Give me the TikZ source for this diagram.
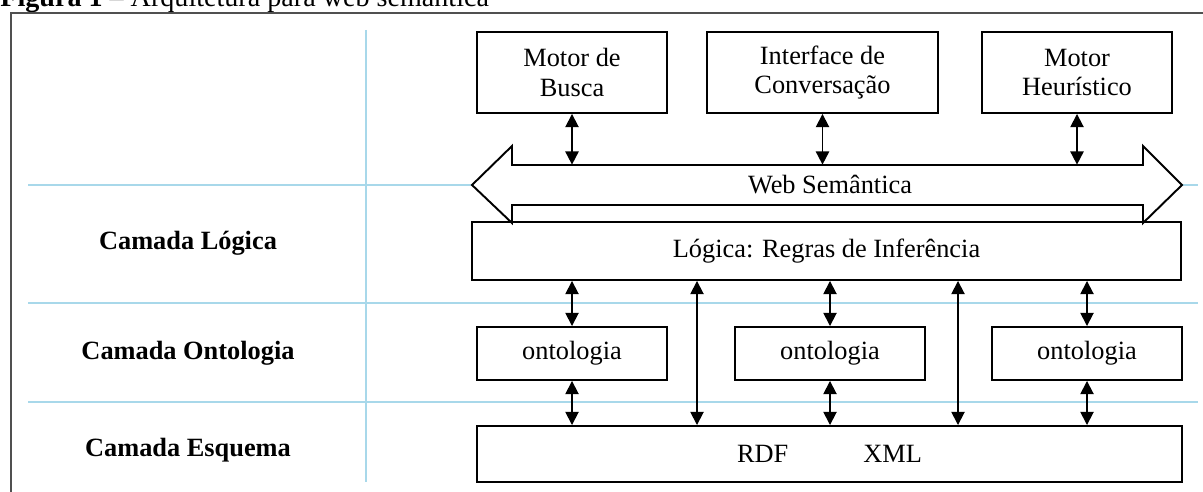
\documentclass[tikz,border=0pt]{standalone}
\usepackage{fontspec}
\setmainfont{Liberation Serif}
\usetikzlibrary{arrows.meta}
\usetikzlibrary{positioning}
\definecolor{guideblue}{RGB}{168,216,234}
\definecolor{framegray}{RGB}{80,80,80}

\begin{document}
\begin{tikzpicture}[x=0.02cm,y=-0.02cm,>={Triangle[length=7.5pt,width=7.5pt]},
	box/.style={rectangle,draw,line width=1.1pt,inner sep=0pt,align=center,font=\fontsize{15}{17}\selectfont},
	layer label/.style={font=\fontsize{15}{17}\selectfont\bfseries},
	guide/.style={draw=guideblue,line width=1.2pt},
	link/.style={<->,line width=1pt}]
		
		\useasboundingbox (0,0) rectangle (1203,492);
		
		\node[anchor=base west,inner sep=0pt,font=\fontsize{16}{18}\selectfont] (titulo) at (0,7) {\textbf{Figura 1} -- Arquitetura para web semântica};
		\draw[framegray,line width=1.2pt] (1203,13) -- (11,13) -- (11,492);
		
		% linhas guia
		\draw[guide] (366,30) -- (366,482);
		\foreach \y in {185,303,402}
		\draw[guide] (28,\y) -- (1198,\y);
		
		\node[layer label] (cl) at (188,243) {Camada Lógica};
		\node[layer label] (co) at (188,353) {Camada Ontologia};
		\node[layer label] (ce) at (188,450) {Camada Esquema};
		
		\node[box,minimum width=3.8cm,minimum height=1.62cm] (busca) at (572,72.5) {Motor de\\Busca};
		\node[box,minimum width=4.62cm,minimum height=1.62cm] (conversa) at (822.5,72.5) {Interface de\\Conversação};
		\node[box,minimum width=3.8cm,minimum height=1.62cm] (heuristico) at (1077,72.5) {Motor\\Heurístico};
		
		% seta dupla
		\draw[line width=1.1pt,fill=white] (472,185) -- (512,146) -- (512,165) -- (1143,165) -- (1143,146) -- (1182,185)
		-- (1143,223) -- (1143,205) -- (512,205) -- (512,223) -- cycle;
		\node[inner sep=0pt,minimum width=12.62cm,minimum height=0.8cm,font=\fontsize{15}{17}\selectfont] (web) at (830,185) {Web Semântica};
		
		\node[box,minimum width=14.18cm,minimum height=1.16cm] (logica) at (826.5,251) {Lógica: Regras de Inferência};
		
		\node[box,minimum width=3.8cm,minimum height=1.06cm] (onto1) at (572,353.5) {ontologia};
		\node[box,minimum width=3.8cm,minimum height=1.06cm] (onto2) at (830,353.5) {ontologia};
		\node[box,minimum width=3.8cm,minimum height=1.06cm] (onto3) at (1087,353.5) {ontologia};
		
		\node[box,minimum width=14.1cm,minimum height=1.12cm] (rdf) at (829.5,454) {RDF\hspace{1.5cm}XML};
		
		\coordinate (p1) at (697,0);
		\coordinate (p2) at (958,0);
		
		\draw[link] (busca.south) -- (busca.south |- web.north);
		\draw[link] (conversa.south) -- (conversa.south |- web.north);
		\draw[link] (heuristico.south) -- (heuristico.south |- web.north);
		\foreach \o in {onto1,onto2,onto3} {
			\draw[link] (logica.south -| \o.north) -- (\o.north);
			\draw[link] (\o.south) -- (\o.south |- rdf.north);
		}
		\draw[link] (logica.south -| p1) -- (rdf.north -| p1);
		\draw[link] (logica.south -| p2) -- (rdf.north -| p2);
		
\end{tikzpicture}
\end{document}
